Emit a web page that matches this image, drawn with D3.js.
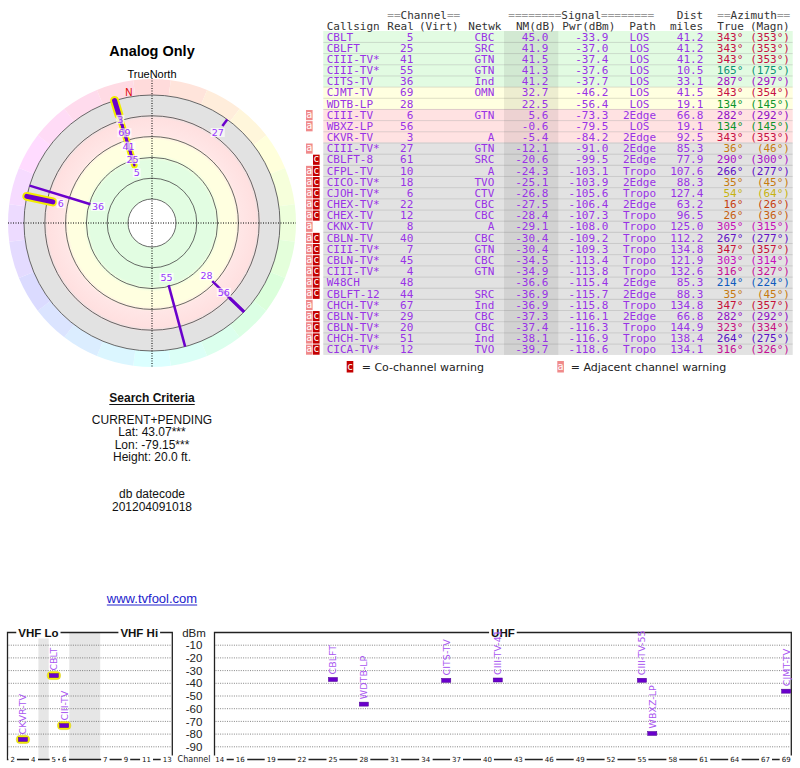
<!DOCTYPE html>
<html>
<head>
<meta charset="utf-8">
<script src="https://cdn.jsdelivr.net/npm/d3@7"></script>
<style>
  body { margin: 0; background: #fff; }
  svg { display: block; }
</style>
</head>
<body>
<svg id="chart" width="800" height="768"></svg>
<script>
// ---- station table values ----
const callsigns = ["CBLT","CBLFT","CIII-TV*","CIII-TV*","CITS-TV","CJMT-TV","WDTB-LP","CIII-TV","WBXZ-LP","CKVR-TV",
  "CIII-TV*","CBLFT-8","CFPL-TV","CICO-TV*","CJOH-TV*","CHEX-TV*","CHEX-TV","CKNX-TV","CBLN-TV","CIII-TV*",
  "CBLN-TV*","CIII-TV*","W48CH","CBLFT-12","CHCH-TV*","CBLN-TV*","CBLN-TV*","CHCH-TV*","CICA-TV*"];
const realCh = [5,25,41,55,36,69,28,6,56,3,27,61,10,18,6,22,12,8,40,7,45,4,48,44,67,29,20,51,12];
const networks = ["CBC","SRC","GTN","GTN","Ind","OMN","","GTN","","A","GTN","SRC","A","TVO","CTV","CBC","CBC","A",
  "CBC","GTN","CBC","GTN","","SRC","Ind","CBC","CBC","Ind","TVO"];
const nmDb = [45.0,41.9,41.5,41.3,41.2,32.7,22.5,5.6,-0.6,-5.4,-12.1,-20.6,-24.3,-25.1,-26.8,-27.5,-28.4,-29.1,
  -30.4,-30.4,-34.5,-34.9,-36.6,-36.9,-36.9,-37.3,-37.4,-38.1,-39.7];
const pwrDbm = [-33.9,-37.0,-37.4,-37.6,-37.7,-46.2,-56.4,-73.3,-79.5,-84.2,-91.0,-99.5,-103.1,-103.9,-105.6,-106.4,
  -107.3,-108.0,-109.2,-109.3,-113.4,-113.8,-115.4,-115.7,-115.8,-116.1,-116.3,-116.9,-118.6];
const paths = ["LOS","LOS","LOS","LOS","LOS","LOS","LOS","2Edge","LOS","2Edge","2Edge","2Edge","Tropo","2Edge","Tropo",
  "2Edge","Tropo","Tropo","Tropo","Tropo","Tropo","Tropo","2Edge","2Edge","Tropo","2Edge","Tropo","Tropo","Tropo"];
const distMi = [41.2,41.2,41.2,10.5,33.1,41.5,19.1,66.8,19.1,92.5,85.3,77.9,107.6,88.3,127.4,63.2,96.5,125.0,112.2,
  134.8,121.9,132.6,85.3,88.3,134.8,66.8,144.9,138.4,134.1];
const azTrue = [343,343,343,165,287,343,134,282,134,343,36,290,266,35,54,16,26,305,267,347,303,316,214,35,347,282,323,264,316];
const azMagn = [353,353,353,175,297,354,145,292,145,353,46,300,277,45,64,26,36,315,277,357,314,327,224,45,357,292,334,275,326];
const warnings = ["","","","","","","","a","a","","a","c","ac","ac","ac","ac","ac","a","ac","ac","ac","ac","ac","ac",
  "a","ac","ac","ac","ac"];

// ---- labels / ticks ----
const header1 = ["==Channel==", "========Signal========", "Dist", "==Azimuth=="];
const header2 = ["Callsign","Real","(Virt)","Netwk","NM(dB)","Pwr(dBm)","Path","miles","True","(Magn)"];
const nmBandCuts = [-10, 15, 35];          // table row colouring
const polarRings = [-20, 0, 20, 40, 60, 80]; // NM(dB) rings of the polar plot
const vhfTicks = [2,4,5,6,7,9,11,13];
const uhfTicks = [14,16,19,22,25,28,31,34,37,40,43,46,49,52,55,58,61,64,67,69];
const dbmTicks = [-10,-20,-30,-40,-50,-60,-70,-80,-90];
const criteria = ["CURRENT+PENDING","Lat: 43.07***","Lon: -79.15***","Height: 20.0 ft."];
const datecode = ["db datecode","201204091018"];

const rows = callsigns.map((c, i) => ({
  call: c, ch: realCh[i], net: networks[i], nm: nmDb[i], pwr: pwrDbm[i], path: paths[i],
  dist: distMi[i], az: azTrue[i], mag: azMagn[i], warn: warnings[i]
}));

const MONO = "DejaVu Sans Mono", SANS = "Liberation Sans, Arial, sans-serif", DEJ = "DejaVu Sans";
const PURPLE = "#9932e6", LINE = "#6a00cc";
const svg = d3.select("#chart");
const defs = svg.append("defs");

// hue follows the bearing; greens/teals are darkened to stay readable
function azColor(a) {
  const l = 0.42 - 0.12 * Math.exp(-Math.pow((a - 150) / 45, 2));
  return d3.hsl(a, 0.85, l).toString();
}

// ================= TABLE =================
const rowH = 11.17, tableTop = 31;
const rowScale = d3.scaleBand().domain(d3.range(rows.length)).range([tableTop, tableTop + rows.length * rowH]);
const bandFill = d3.scaleThreshold().domain(nmBandCuts).range(["#e2e2e2", "#ffe2e2", "#ffffe0", "#e2fbe2"]);
const table = svg.append("g").attr("font-family", MONO).attr("font-size", 11);

table.selectAll("rect.row").data(rows).join("rect").attr("class", "row")
  .attr("x", 323.3).attr("y", (d, i) => rowScale(i))
  .attr("width", 469.4).attr("height", rowScale.bandwidth())
  .attr("fill", d => bandFill(d.nm));
table.append("rect")
  .attr("x", 504).attr("y", tableTop).attr("width", 54.3).attr("height", rows.length * rowH)
  .attr("fill", "#000").attr("opacity", 0.07);
table.selectAll("line.sep").data(d3.range(1, rows.length)).join("line").attr("class", "sep")
  .attr("x1", 323.3).attr("x2", 792.7)
  .attr("y1", i => rowScale(i) + 0.25).attr("y2", i => rowScale(i) + 0.25)
  .attr("stroke", "#000").attr("stroke-opacity", 0.13).attr("stroke-width", 1);

// headers
const h1x = [387.3, 508.3, 676.7, 717.3];
const h2x = [326.7, 387.3, 419, 468.3, 516, 562.3, 629.3, 670, 717.3, 750];
function headerText(str, x, y) {
  const t = table.append("text").attr("x", x).attr("y", y).attr("xml:space", "preserve");
  str.split(/(=+)/).filter(s => s.length).forEach(s => {
    t.append("tspan").text(s).attr("fill", s[0] === "=" ? "#9a9a9a" : "#333");
  });
}
header1.forEach((s, i) => headerText(s, h1x[i], 18.5));
header2.forEach((s, i) => headerText(s, h2x[i], 29.5));

const cols = [
  { x: 326.7, a: "start",  f: d => d.call },
  { x: 413.3, a: "end",    f: d => d.ch },
  { x: 494.3, a: "end",    f: d => d.net },
  { x: 548.3, a: "end",    f: d => d.nm.toFixed(1) },
  { x: 608.3, a: "end",    f: d => d.pwr.toFixed(1) },
  { x: 639.5, a: "middle", f: d => d.path },
  { x: 703.3, a: "end",    f: d => d.dist.toFixed(1) },
  { x: 743.3, a: "end",    f: d => d.az + "°",        c: d => azColor(d.az) },
  { x: 790,   a: "end",    f: d => "(" + d.mag + "°)", c: d => azColor(d.az) }
];
cols.forEach(col => {
  table.append("g").selectAll("text").data(rows).join("text")
    .attr("x", col.x).attr("y", (d, i) => rowScale(i) + 9.6)
    .attr("text-anchor", col.a)
    .attr("fill", d => col.c ? col.c(d) : PURPLE)
    .text(col.f);
});

// warning boxes
const warnStyle = { a: { x: 306, fill: "#f08a8a" }, c: { x: 313, fill: "#c40000" } };
function warnBox(g, ch, x, y, h) {
  g.append("rect").attr("x", x).attr("y", y).attr("width", 6.6).attr("height", h)
    .attr("fill", warnStyle[ch].fill);
  g.append("text").attr("x", x + 3.3).attr("y", y + h - 2.4).attr("text-anchor", "middle")
    .attr("font-family", MONO).attr("font-size", 10).attr("fill", "#fff").text(ch);
}
rows.forEach((d, i) => {
  d.warn.split("").forEach(ch => warnBox(table, ch, warnStyle[ch].x, rowScale(i) + 0.8, rowH - 1));
});

// legend
const legend = svg.append("g").attr("font-family", DEJ).attr("font-size", 11).attr("fill", "#222");
warnBox(legend.append("g"), "c", 346.7, 361, 11.5);
legend.append("text").attr("x", 361.7).attr("y", 371).text("= Co-channel warning");
warnBox(legend.append("g"), "a", 557.3, 361, 11.5);
legend.append("text").attr("x", 570.7).attr("y", 371).text("= Adjacent channel warning");

// ================= POLAR PLOT =================
const cx = 152, cy = 223;
const rNM = d3.scaleLinear().domain([-20, 80]).range([128, 24]);
const rOuter = rNM(-20), rRim = 144;
const polar = svg.append("g").attr("transform", `translate(${cx},${cy})`);

// pastel compass rim
const rimArc = d3.arc().innerRadius(rOuter).outerRadius(rRim);
const rimSegs = d3.range(0, 360, 15);
polar.selectAll("path.rim").data(rimSegs).join("path").attr("class", "rim")
  .attr("d", a => rimArc({ startAngle: (a - 7.5) * Math.PI / 180, endAngle: (a + 7.5) * Math.PI / 180 }))
  .attr("fill", a => d3.hsl(a, 1, 0.93).toString());

// signal-strength bands
const grad = defs.append("radialGradient").attr("id", "bands")
  .attr("gradientUnits", "userSpaceOnUse").attr("cx", 0).attr("cy", 0).attr("r", rOuter);
[[80, "#e2fde2"], [43, "#e2fde2"], [37, "#ffffe0"], [23, "#ffffe0"], [18, "#ffe6e6"],
 [3, "#ffe0e0"], [-2, "#e2e2e2"], [-20, "#e2e2e2"]]
  .map(([v, c]) => [rNM(v) / rOuter, c]).sort((a, b) => a[0] - b[0])
  .forEach(([o, c]) => grad.append("stop").attr("offset", o).attr("stop-color", c));
polar.append("circle").attr("r", rOuter).attr("fill", "url(#bands)");
polar.append("circle").attr("r", rNM(80)).attr("fill", "#fff");
polar.selectAll("circle.ring").data(polarRings).join("circle").attr("class", "ring")
  .attr("r", v => rNM(v)).attr("fill", "none").attr("stroke", "#444").attr("stroke-width", 0.8);

// crosshair
polar.append("line").attr("x1", -rRim).attr("x2", rRim).attr("y1", 0).attr("y2", 0)
  .attr("stroke", "#000").attr("stroke-dasharray", "1,1.5");
polar.append("line").attr("y1", -rRim - 1).attr("y2", rRim + 1).attr("x1", 0).attr("x2", 0)
  .attr("stroke", "#000").attr("stroke-dasharray", "1,1.5");

// magnetic north marker
const decl = azMagn[0] - azTrue[0];
const pt = (az, r) => [r * Math.sin(az * Math.PI / 180), -r * Math.cos(az * Math.PI / 180)];
const nPos = pt(-decl, 133);
polar.append("text").attr("x", nPos[0]).attr("y", nPos[1]).attr("text-anchor", "middle")
  .attr("dominant-baseline", "central").attr("font-family", SANS).attr("font-size", 10)
  .attr("fill", "#dd0000").text("N");

// station lines
const shown = rows.filter(d => d.nm >= -20);
const lineW = d => (d.nm > -10 && d.nm < 10) ? (d.ch <= 13 ? 5 : 3.2) : 2.5;
polar.selectAll("line.halo").data(shown.filter(d => d.ch <= 13)).join("line").attr("class", "halo")
  .attr("x1", d => pt(d.az, rOuter)[0]).attr("y1", d => pt(d.az, rOuter)[1])
  .attr("x2", d => pt(d.az, rNM(d.nm))[0]).attr("y2", d => pt(d.az, rNM(d.nm))[1])
  .attr("stroke", "#f2ec00").attr("stroke-width", d => lineW(d) + 4).attr("stroke-linecap", "round");
polar.selectAll("line.sta").data(shown).join("line").attr("class", "sta")
  .attr("x1", d => pt(d.az, rOuter)[0]).attr("y1", d => pt(d.az, rOuter)[1])
  .attr("x2", d => pt(d.az, rNM(d.nm))[0]).attr("y2", d => pt(d.az, rNM(d.nm))[1])
  .attr("stroke", LINE).attr("stroke-width", lineW)
  .attr("stroke-linecap", d => d.ch <= 13 ? "round" : "butt");

// channel labels, pushed apart along shared bearings
const labs = shown.map(d => ({ d, r: rNM(d.nm) - 8 }));
d3.groups(labs, l => l.d.az).forEach(([, g]) => {
  g.sort((a, b) => a.r - b.r);
  for (let k = 1; k < g.length; k++) g[k].r = Math.max(g[k].r, g[k - 1].r + 14);
});
const labG = polar.append("g").attr("font-family", DEJ).attr("font-size", 9.5);
labs.forEach(l => {
  const [x, y] = pt(l.d.az, l.r);
  const lg = labG.append("g");
  const t = lg.append("text").attr("x", x).attr("y", y).attr("text-anchor", "middle")
    .attr("dominant-baseline", "central").attr("fill", "#9933ff").text(l.d.ch);
  const bb = t.node().getBBox();
  lg.insert("rect", "text").attr("x", bb.x - 1).attr("y", bb.y + 1).attr("width", bb.width + 2)
    .attr("height", bb.height - 2).attr("fill", "#fff").attr("opacity", 0.7);
});

// titles
svg.append("text").attr("x", cx).attr("y", 56).attr("text-anchor", "middle")
  .attr("font-family", SANS).attr("font-weight", "bold").attr("font-size", 14.5).text("Analog Only");
svg.append("text").attr("x", cx).attr("y", 78).attr("text-anchor", "middle")
  .attr("font-family", SANS).attr("font-size", 11).text("TrueNorth");

// ================= SEARCH CRITERIA =================
const info = svg.append("g").attr("font-family", SANS).attr("font-size", 12).attr("text-anchor", "middle").attr("fill", "#111");
const sc = info.append("text").attr("x", cx).attr("y", 402).attr("font-weight", "bold").text("Search Criteria");
const scW = sc.node().getComputedTextLength();
info.append("line").attr("x1", cx - scW / 2).attr("x2", cx + scW / 2).attr("y1", 404.5).attr("y2", 404.5)
  .attr("stroke", "#111").attr("stroke-width", 1);
criteria.forEach((s, i) => info.append("text").attr("x", cx).attr("y", 423.5 + i * 12.6).text(s));
datecode.forEach((s, i) => info.append("text").attr("x", cx).attr("y", 498 + i * 12.5).text(s));
const link = info.append("text").attr("x", cx).attr("y", 603).attr("font-size", 13).attr("fill", "#2222cc").text("www.tvfool.com");
const lkW = link.node().getComputedTextLength();
info.append("line").attr("x1", cx - lkW / 2).attr("x2", cx + lkW / 2).attr("y1", 605).attr("y2", 605)
  .attr("stroke", "#2222cc").attr("stroke-width", 1);

// ================= SPECTRUM =================
const slotOf = ch => ch <= 4 ? ch - 2 : ch <= 6 ? ch - 1 : ch + 2;
const vhfX = d3.scaleLinear().domain([0, 16]).range([7.5, 172.3]);
const uhfX = d3.scaleLinear().domain([14, 70]).range([214.5, 791.3]);
const yDbm = d3.scaleLinear().domain([0, -100]).range([632.5, 759.5]);
const slotW = vhfX(1) - vhfX(0);
const chX = ch => ch <= 13 ? vhfX(slotOf(ch)) : uhfX(ch);
const spec = svg.append("g");
const yTop = yDbm(0), yBot = yDbm(-100);

// gaps in the VHF plan
[[3, 4], [6, 9]].forEach(([a, b]) => spec.append("rect")
  .attr("x", vhfX(a)).attr("width", vhfX(b) - vhfX(a)).attr("y", yTop).attr("height", yBot - yTop).attr("fill", "#e6e6e6"));

// grid + frames
const panels = [[vhfX(0), vhfX(16)], [uhfX(14), uhfX(70)]];
panels.forEach(([x0, x1]) => {
  spec.append("g").selectAll("line").data(dbmTicks).join("line")
    .attr("x1", x0 + 1).attr("x2", x1 - 1).attr("y1", d => yDbm(d)).attr("y2", d => yDbm(d))
    .attr("stroke", "#666").attr("stroke-width", 0.8).attr("stroke-dasharray", "1,1.3");
  spec.append("path").attr("d", `M${x0},${yBot}V${yTop}H${x1}V${yBot}Z`)
    .attr("fill", "none").attr("stroke", "#222").attr("stroke-width", 1.3);
});

// dBm axis
const yAxis = spec.append("g").attr("transform", "translate(194,0)")
  .call(d3.axisRight(yDbm).tickValues(dbmTicks).tickSize(0).tickFormat(d => String(d)));
yAxis.select(".domain").remove();
yAxis.selectAll("text").attr("x", 0).attr("text-anchor", "middle").attr("font-family", SANS)
  .attr("font-size", 11.5).attr("fill", "#222");
spec.append("text").attr("x", 194).attr("y", yTop).attr("dominant-baseline", "central").attr("text-anchor", "middle")
  .attr("font-family", SANS).attr("font-size", 11.5).attr("fill", "#222").text("dBm");
spec.append("text").attr("x", 194).attr("y", yBot).attr("dominant-baseline", "central").attr("text-anchor", "middle")
  .attr("font-family", DEJ).attr("font-size", 8).attr("fill", "#222").text("Channel");

function boxedText(g, x, y, s, size, weight, family) {
  const t = g.append("text").attr("x", x).attr("y", y).attr("text-anchor", "middle")
    .attr("dominant-baseline", "central").attr("font-family", family).attr("font-size", size)
    .attr("font-weight", weight).attr("fill", "#111").text(s);
  const bb = t.node().getBBox();
  g.insert("rect", "text").attr("x", bb.x - 2).attr("y", bb.y).attr("width", bb.width + 4)
    .attr("height", bb.height).attr("fill", "#fff");
}
const tickG = spec.append("g");
vhfTicks.forEach(c => boxedText(tickG.append("g"), vhfX(slotOf(c)) + slotW / 2, yBot, c, 7, "normal", DEJ));
uhfTicks.forEach(c => boxedText(tickG.append("g"), uhfX(c) + slotW / 2, yBot, c, 7, "normal", DEJ));
const bandG = spec.append("g");
boxedText(bandG.append("g"), (vhfX(0) + vhfX(6)) / 2, yTop, "VHF Lo", 11.5, "bold", SANS);
boxedText(bandG.append("g"), (vhfX(9) + vhfX(16)) / 2 + 3, yTop, "VHF Hi", 11.5, "bold", SANS);
boxedText(bandG.append("g"), (uhfX(14) + uhfX(70)) / 2, yTop, "UHF", 11.5, "bold", SANS);

// station bars
const onAir = rows.filter(d => d.pwr > -90);
const barH = 4;
spec.selectAll("rect.hl").data(onAir.filter(d => d.ch <= 13)).join("rect").attr("class", "hl")
  .attr("x", d => chX(d.ch) - 1.5).attr("y", d => yDbm(d.pwr) - barH / 2 - 2)
  .attr("width", slotW + 3).attr("height", barH + 4).attr("rx", 3.5)
  .attr("fill", "#f6f000").attr("stroke", "#d8cc30").attr("stroke-width", 0.6);
spec.selectAll("rect.bar").data(onAir).join("rect").attr("class", "bar")
  .attr("x", d => chX(d.ch) + 0.6).attr("y", d => yDbm(d.pwr) - barH / 2)
  .attr("width", slotW - 1.2).attr("height", barH)
  .attr("fill", LINE).attr("stroke", "#4a0090").attr("stroke-width", 0.5);
spec.selectAll("text.sl").data(onAir).join("text").attr("class", "sl")
  .attr("transform", d => `translate(${chX(d.ch) + slotW / 2},${yDbm(d.pwr) - 5}) rotate(-90)`)
  .attr("dominant-baseline", "central").attr("font-family", DEJ).attr("font-size", 9.5)
  .attr("fill", "#a855f0")
  .text(d => d.call.endsWith("*") ? d.call.slice(0, -1) + "-" + d.ch : d.call);
</script>
</body>
</html>
